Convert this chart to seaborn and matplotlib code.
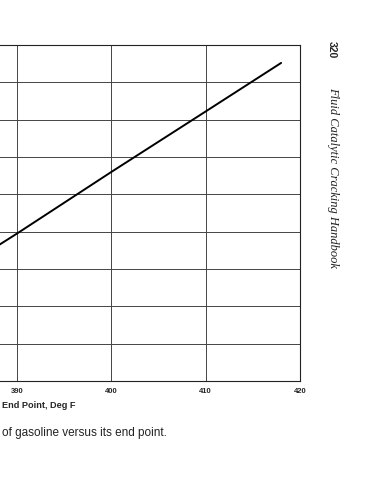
import matplotlib
matplotlib.use("Agg")
import matplotlib.pyplot as plt
import seaborn as sns
import pandas as pd

# data
end_point = [380, 390, 400, 410, 418]
value = [2.35, 3.95, 5.6, 7.22, 8.52]
x_grid = [380, 390, 400, 410, 420]
x_ticks = [390, 400, 410, 420]
x_tick_labels = ["390", "400", "410", "420"]
y_ticks = [0, 1, 2, 3, 4, 5, 6, 7, 8, 9]

sns.set_style("white")
plt.rcParams["font.family"] = ["Liberation Sans", "DejaVu Sans"]

fig = plt.figure(figsize=(3.81, 4.80), dpi=100)
ax = fig.add_axes([-77.3 / 381, 99 / 480, 377.3 / 381, 336 / 480])

df = pd.DataFrame({"End Point": end_point, "Value": value})
sns.lineplot(data=df, x="End Point", y="Value", ax=ax, color="black", linewidth=1.4)

ax.set_xlim(380, 420)
ax.set_ylim(0, 9)
ax.set_xticks(x_ticks)
ax.set_xticklabels(x_tick_labels, fontsize=5.5, fontweight="bold")
ax.set_xticks(x_grid, minor=True)
ax.set_yticks(y_ticks)
ax.set_yticklabels([])
ax.grid(True, which="both", axis="x", color="#444444", linewidth=0.7)
ax.grid(True, axis="y", color="#444444", linewidth=0.7)
for s in ax.spines.values():
    s.set_color("#222222")
    s.set_linewidth(0.8)
ax.tick_params(axis="x", which="major", length=2, width=0.7, color="#222222", pad=3)
ax.tick_params(axis="x", which="minor", length=0)
ax.tick_params(axis="y", length=0)
ax.set_xlabel("")
ax.set_ylabel("")

fig.text(2 / 381, 1 - 408 / 480, "End Point, Deg F", fontsize=6.6, fontweight="bold",
         ha="left", va="baseline")
fig.text(2 / 381, 1 - 436 / 480, "of gasoline versus its end point.", fontsize=8.5,
         ha="left", va="baseline", color="#222222")

fig.text(332 / 381, 1 - 50 / 480, "320", fontsize=7.5, fontweight="bold",
         rotation=270, ha="center", va="center")
fig.text(333 / 381, 1 - 177 / 480, "Fluid Catalytic Cracking Handbook", fontsize=9,
         fontstyle="italic", family=["Liberation Serif", "DejaVu Serif"],
         rotation=270, ha="center", va="center", color="#222222")

fig.savefig("out.png", dpi=100)
